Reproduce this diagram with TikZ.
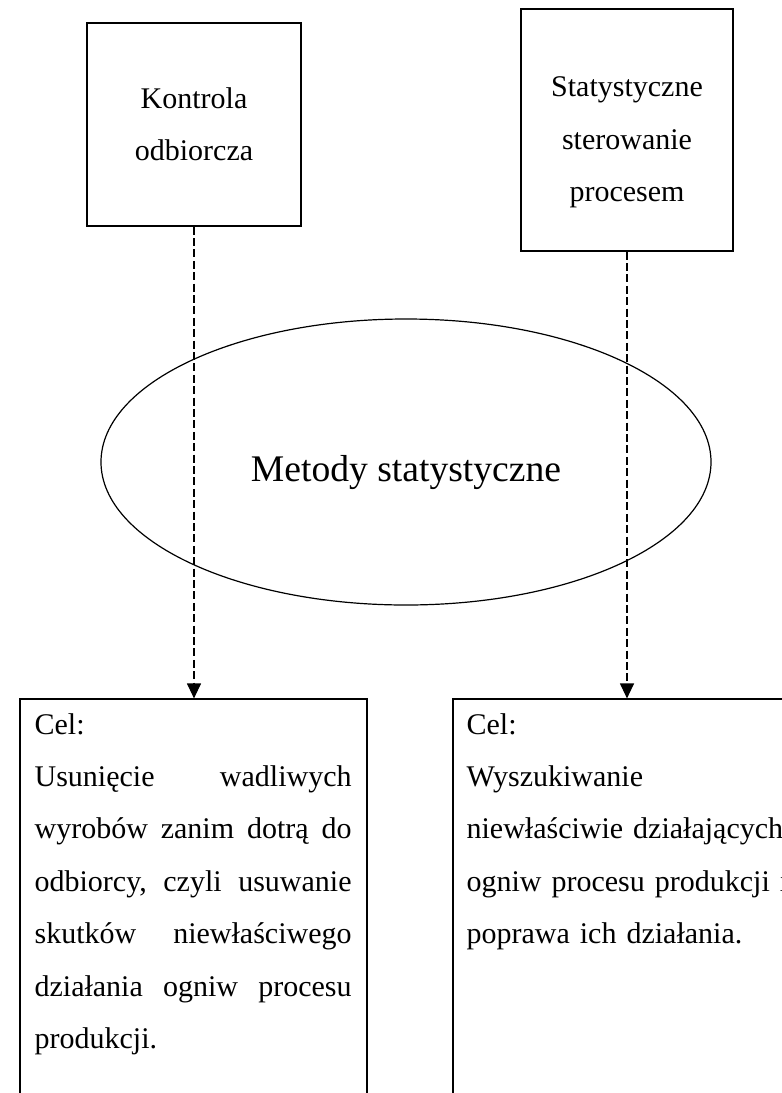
\documentclass[tikz,border=0pt]{standalone}
\usepackage{fontspec}
\setmainfont{Liberation Serif}
\usetikzlibrary{positioning, shapes.geometric, arrows.meta}
\newcommand{\jline}[1]{\makebox[158.5pt][s]{#1}}

\begin{document}
\begin{tikzpicture}[x=0.5pt, y=-0.5pt, line width=0.6pt,
  box/.style = {draw, rectangle, inner sep=0pt},
  txt/.style = {font=\fontsize{15pt}{26.2pt}\selectfont, align=center, inner sep=0pt},
  goal/.style = {font=\fontsize{15pt}{26.2pt}\selectfont, align=left, inner sep=0pt, anchor=base west},
  link/.style = {dash pattern=on 4pt off 1.7pt, -{Triangle[length=7.5pt, width=7pt]}}]
\useasboundingbox (0,0) rectangle (782,1093);
\clip (0,0) rectangle (782,1093);

\node[box, txt, minimum width=107pt, minimum height=101.5pt] (kontrola) at (194,124.5) {Kontrola\\odbiorcza};
\node[box, minimum width=106pt, minimum height=121pt] (sterowanie) at (627,130) {};
\node[txt] (sterowanietxt) at (627,142.5) {Statystyczne\\sterowanie\\procesem};

\node[draw, ellipse, minimum width=305pt, minimum height=143pt, inner sep=0pt] (metody) at (406,462) {};
\node[font=\fontsize{18.8pt}{22pt}\selectfont, anchor=base, inner sep=0pt] (metodytxt) at (406,481) {Metody statystyczne};

\node[box, minimum width=173.5pt, minimum height=210.5pt] (celA) at (193.5,909.5) {};
\node[box, minimum width=188.5pt, minimum height=210.5pt] (celB) at (641.5,909.5) {};

\node[goal, text width=158.5pt] (celAtxt) at (34,734) {Cel:\\
  \jline{Usunięcie\hfill wadliwych}\\
  \jline{wyrobów\hfill zanim\hfill dotrą\hfill do}\\
  \jline{odbiorcy,\hfill czyli\hfill usuwanie}\\
  \jline{skutków\hfill niewłaściwego}\\
  \jline{działania\hfill ogniw\hfill procesu}\\
  produkcji.};
\node[goal, text width=170pt] (celBtxt) at (466,734) {Cel:\\
  Wyszukiwanie\\
  niewłaściwie działających\\
  ogniw procesu produkcji i\\
  poprawa ich działania.};

\draw[link] (kontrola.south) -- (kontrola.south |- celA.north);
\draw[link] (sterowanie.south) -- (sterowanie.south |- celB.north);
\end{tikzpicture}
\end{document}
